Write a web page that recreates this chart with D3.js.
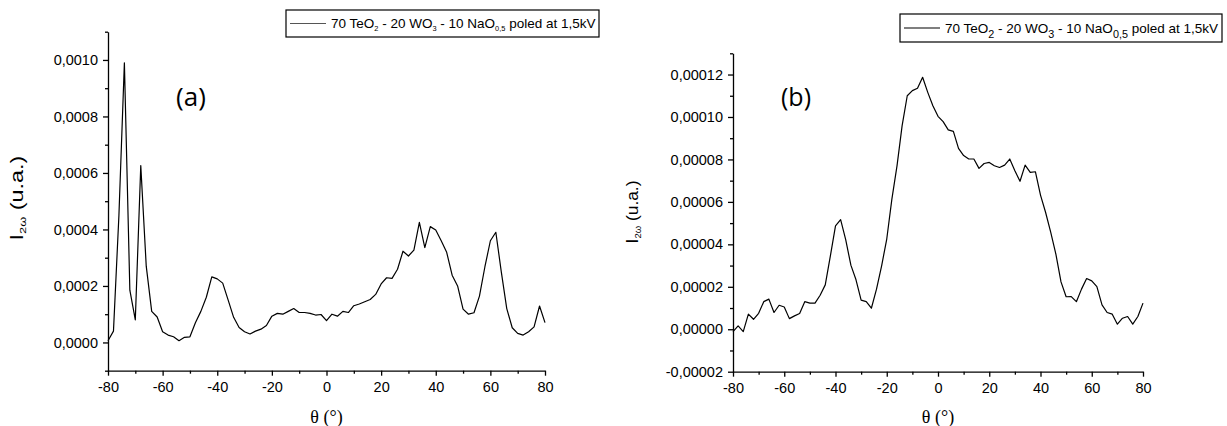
<!DOCTYPE html>
<html><head><meta charset="utf-8">
<script src="https://cdn.jsdelivr.net/npm/d3@7"></script>
<style>body{margin:0;background:#fff}svg{display:block}</style>
</head><body><svg id="c" width="1227" height="426"></svg>
<script>
const angles = [-80,-78,-76,-74,-72,-70,-68,-66,-64,-62,-60,-58,-56,-54,-52,-50,-48,-46,-44,-42,-40,-38,-36,-34,-32,-30,-28,-26,-24,-22,-20,-18,-16,-14,-12,-10,-8,-6,-4,-2,0,2,4,6,8,10,12,14,16,18,20,22,24,26,28,30,32,34,36,38,40,42,44,46,48,50,52,54,56,58,60,62,64,66,68,70,72,74,76,78,80];
const seriesA = [0.000006,0.00004,0.00045,0.00099,0.000185,0.00008,0.000626,0.00027,0.00011,0.00009,0.000038,0.000026,0.00002,0.000006,0.000018,0.00002,0.00007,0.00011,0.00016,0.000232,0.000225,0.00021,0.00015,0.000089,0.000053,0.000038,0.00003,0.00004,0.000047,0.00006,0.000093,0.000103,0.0001,0.00011,0.00012,0.000106,0.000106,0.000103,0.000097,0.000099,0.000077,0.0001,0.000093,0.00011,0.000106,0.00013,0.000136,0.000144,0.000152,0.00017,0.000207,0.000229,0.000227,0.000259,0.000323,0.000306,0.000327,0.000425,0.000336,0.00041,0.000398,0.00036,0.000319,0.000238,0.0002,0.000118,0.0001,0.000105,0.000164,0.000268,0.00036,0.00039,0.00025,0.00012,0.000052,0.000032,0.000026,0.000038,0.000055,0.000129,0.00007];
const seriesB = [-0.0000011,0.0000016,-0.0000011,0.0000071,0.0000047,0.0000075,0.000013,0.0000142,0.0000079,0.0000113,0.0000105,0.000005,0.0000063,0.0000074,0.000013,0.0000123,0.0000123,0.000016,0.0000209,0.0000346,0.0000487,0.0000516,0.0000421,0.0000302,0.0000233,0.0000137,0.000013,0.0000099,0.0000189,0.0000299,0.0000425,0.0000613,0.000077,0.0000959,0.00011,0.0001124,0.0001135,0.0001187,0.0001116,0.0001053,0.0001003,0.0000978,0.0000939,0.0000932,0.0000852,0.0000818,0.0000802,0.0000802,0.0000758,0.0000781,0.0000786,0.000077,0.0000762,0.0000773,0.0000802,0.0000747,0.0000697,0.0000773,0.0000739,0.0000742,0.0000632,0.000055,0.0000456,0.0000354,0.0000223,0.0000153,0.0000154,0.000013,0.0000189,0.0000239,0.0000228,0.0000201,0.0000115,0.0000079,0.0000071,0.0000024,0.0000052,0.000006,0.0000024,0.000006,0.0000123];
const xTicks = [-80,-60,-40,-20,0,20,40,60,80];
const xMinor = [-70,-50,-30,-10,10,30,50,70];
const yTicksA = [0,0.0002,0.0004,0.0006,0.0008,0.0010];
const yMinorA = [-0.0001,0.0001,0.0003,0.0005,0.0007,0.0009,0.0011];
const yTicksB = [-0.00002,0,0.00002,0.00004,0.00006,0.00008,0.00010,0.00012];
const yMinorB = [-0.00001,0.00001,0.00003,0.00005,0.00007,0.00009,0.00011,0.00013];
const panelLabels = ["(a)","(b)"];

const loc = d3.formatLocale({decimal:",", thousands:".", grouping:[3], currency:["",""], minus:"-"});
const svg = d3.select("#c");
const FONT = "'Liberation Sans', Arial, sans-serif";

function panel(cfg){
  const g = svg.append("g");
  const x = d3.scaleLinear().domain([-80,80]).range(cfg.xr);
  const y = d3.scaleLinear().domain(cfg.yd).range(cfg.yr);
  const fmt = loc.format(cfg.fmt);
  const ax = g.append("g").attr("transform",`translate(0,${cfg.yr[0]})`)
    .call(d3.axisBottom(x).tickValues(xMinor).tickSize(3).tickFormat(""));
  ax.select(".domain").remove();
  g.append("g").attr("transform",`translate(0,${cfg.yr[0]})`)
    .call(d3.axisBottom(x).tickValues(xTicks).tickSize(5).tickSizeOuter(0).tickPadding(6).tickFormat(loc.format("d")));
  const ay = g.append("g").attr("transform",`translate(${cfg.xr[0]},0)`)
    .call(d3.axisLeft(y).tickValues(cfg.minor).tickSize(3).tickFormat(""));
  ay.select(".domain").remove();
  g.append("g").attr("transform",`translate(${cfg.xr[0]},0)`)
    .call(d3.axisLeft(y).tickValues(cfg.ticks).tickSize(5).tickSizeOuter(0).tickPadding(5).tickFormat(fmt));
  g.selectAll(".tick text").attr("font-family",FONT).attr("font-size",14.5).attr("fill","#000");
  g.selectAll(".domain, .tick line").attr("stroke","#000").attr("stroke-width",1.3);
  const line = d3.line().x((d,i)=>x(angles[i])).y(d=>y(d));
  g.append("path").datum(cfg.data).attr("d",line).attr("fill","none")
    .attr("stroke","#000").attr("stroke-width",1.2).attr("stroke-linejoin","round");
  g.append("text").attr("x",(cfg.xr[0]+cfg.xr[1])/2).attr("y",cfg.xlabY)
    .attr("text-anchor","middle").attr("font-family","'Liberation Serif', 'DejaVu Serif', serif")
    .attr("font-size",18).text("θ (°)");
  const yl = g.append("text").attr("transform",`translate(${cfg.ylab[0]},${cfg.ylab[1]}) rotate(-90) scale(${cfg.ylabStretch},1)`)
    .attr("text-anchor","middle").attr("font-family",FONT).attr("font-size",cfg.ylabSize);
  yl.append("tspan").text("I");
  yl.append("tspan").attr("font-size",cfg.ylabSize*0.55).attr("dy",3).text("2ω");
  yl.append("tspan").attr("dy",-3).text(" (u.a.)");
  g.append("text").attr("x",cfg.pl[0]).attr("y",cfg.pl[1]).attr("text-anchor","middle")
    .attr("font-family","'Open Sans', Lato, sans-serif").attr("font-size",cfg.plSize).text(cfg.plabel);
  const L = cfg.leg;
  g.append("rect").attr("x",L.x).attr("y",L.y).attr("width",L.w).attr("height",L.h)
    .attr("fill","#fff").attr("stroke","#000").attr("stroke-width",1.2);
  g.append("line").attr("x1",L.x+4).attr("x2",L.x+40).attr("y1",L.y+L.h/2).attr("y2",L.y+L.h/2)
    .attr("stroke",L.lc).attr("stroke-width",1.2);
  const t = g.append("text").attr("x",L.x+45).attr("y",L.y+L.h/2+4.5)
    .attr("font-family",FONT).attr("font-size",L.fs);
  const parts = [["70 TeO",0],["2",1],[" - 20 WO",0],["3",1],[" - 10 NaO",0],["0,5",1],[" poled at 1,5kV",0]];
  let prev = 0;
  parts.forEach(([s,sub])=>{
    const sp = t.append("tspan").text(s);
    if(sub){ sp.attr("font-size",L.fs*L.ss).attr("dy",L.sd); prev=L.sd; }
    else if(prev){ sp.attr("dy",-prev); prev=0; }
  });
}

panel({xr:[108,545], yr:[370.7,31.7], yd:[-0.0001,0.0011], fmt:".4f", ticks:yTicksA, minor:yMinorA,
  data:seriesA, xlabY:423, ylab:[23,198], ylabSize:18, ylabStretch:1.3, pl:[191,106], plSize:26, plabel:panelLabels[0],
  leg:{x:286,y:10,w:313,h:27,lc:"#555",fs:13.5,ss:0.55,sd:3}});
panel({xr:[733,1143], yr:[371.7,53.3], yd:[-0.00002,0.00013], fmt:".5f", ticks:yTicksB, minor:yMinorB,
  data:seriesB, xlabY:423, ylab:[638,212], ylabSize:16.5, ylabStretch:1.05, pl:[796,106], plSize:25, plabel:panelLabels[1],
  leg:{x:900,y:14,w:322,h:28,lc:"#000",fs:13.5,ss:0.8,sd:5}});
</script></body></html>
